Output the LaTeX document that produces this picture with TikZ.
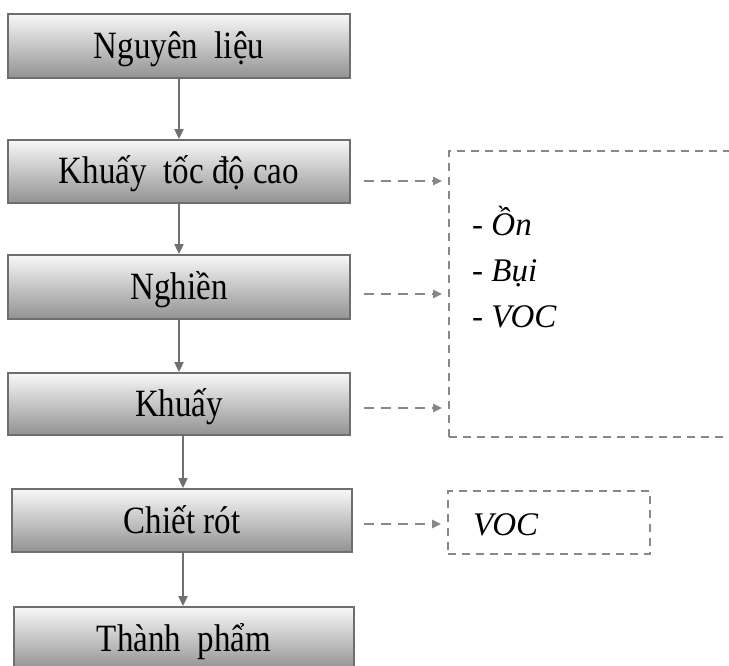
\documentclass[tikz,border=0pt]{standalone}
\usepackage{fontspec}
\setmainfont{Liberation Serif}
\usetikzlibrary{arrows.meta,positioning,calc}
\definecolor{boxline}{HTML}{6E6E6E}
\definecolor{arrowgray}{HTML}{707070}
\definecolor{dashgray}{HTML}{888888}
\definecolor{shadetop}{HTML}{F8F8F8}
\definecolor{shadebot}{HTML}{929292}
\newcommand{\talltext}[1]{\scalebox{1}[1.17]{#1}}
\tikzset{
  proc/.style={draw=boxline, line width=1.8pt, top color=shadetop, bottom color=shadebot,
    minimum width=342pt, minimum height=63pt, inner sep=0pt,
    text height=32pt, text depth=7pt,
    font=\fontsize{33}{40}\selectfont},
  flow/.style={draw=arrowgray, line width=1.8pt, -{Triangle[length=10pt,width=9pt]}},
  dasharrow/.style={draw=dashgray, line width=2.1pt, dash pattern=on 10pt off 7pt,
    -{Triangle[length=9pt,width=8pt]}},
  envbox/.style={draw=dashgray, line width=1.6pt, dash pattern=on 8pt off 6pt,
    inner sep=0pt},
  envtext/.style={font=\fontsize{33}{40}\selectfont, inner sep=0pt, anchor=base west},
}
\begin{document}
\begin{tikzpicture}[x=1pt,y=1pt]
\clip (0,0) rectangle (729,-666);
\fill[white] (0,0) rectangle (729,-666);
% process boxes
\node[proc, minimum height=64pt] (n1) at (179,-46) {\talltext{Nguyên~ liệu}};
\node[proc] (n2) at (179,-171.5) {\talltext{Khuấy~ tốc độ cao}};
\node[proc, minimum height=64pt] (n3) at (179,-287) {\talltext{Nghiền}};
\node[proc, minimum height=62pt] (n4) at (179,-404) {\talltext{Khuấy}};
\node[proc, minimum width=340pt] (n5) at (182,-520.5) {\talltext{Chiết rót}};
\node[proc, minimum width=340pt] (n6) at (184,-638.5) {\talltext{Thành~ phẩm}};
% main flow
\draw[flow] (n1.south) -- (n2.north);
\draw[flow] (n2.south) -- (n3.north);
\draw[flow] (n3.south) -- (n4.north);
\draw[flow] (n4.south -| 183,0) -- (n5.north -| 183,0);
\draw[flow] (n5.south -| 183,0) -- (n6.north -| 183,0);
% emission boxes
\node[envbox, minimum width=341pt, minimum height=286pt] (e1) at (619.5,-294) {};
\node[envbox, minimum width=202pt, minimum height=63pt] (e2) at (549,-522.5) {};
\node[envtext] (t1) at (472,-236) {- \textit{Ồn}};
\node[envtext] (t2) at (472,-281) {- \textit{Bụi}};
\node[envtext] (t3) at (472,-327) {- \textit{VOC}};
\node[envtext] (t4) at (473,-535) {\textit{VOC}};
% dashed arrows
\draw[dasharrow] ([xshift=13pt]n2.east |- 0,-181) -- ([xshift=-6pt]e1.west |- 0,-181);
\draw[dasharrow] ([xshift=13pt]n3.east |- 0,-294) -- ([xshift=-6pt]e1.west |- 0,-294);
\draw[dasharrow] ([xshift=13pt]n4.east |- 0,-408) -- ([xshift=-6pt]e1.west |- 0,-408);
\draw[dasharrow] ([xshift=11pt]n5.east |- 0,-524) -- ([xshift=-6pt]e2.west |- 0,-524);
\end{tikzpicture}
\end{document}
